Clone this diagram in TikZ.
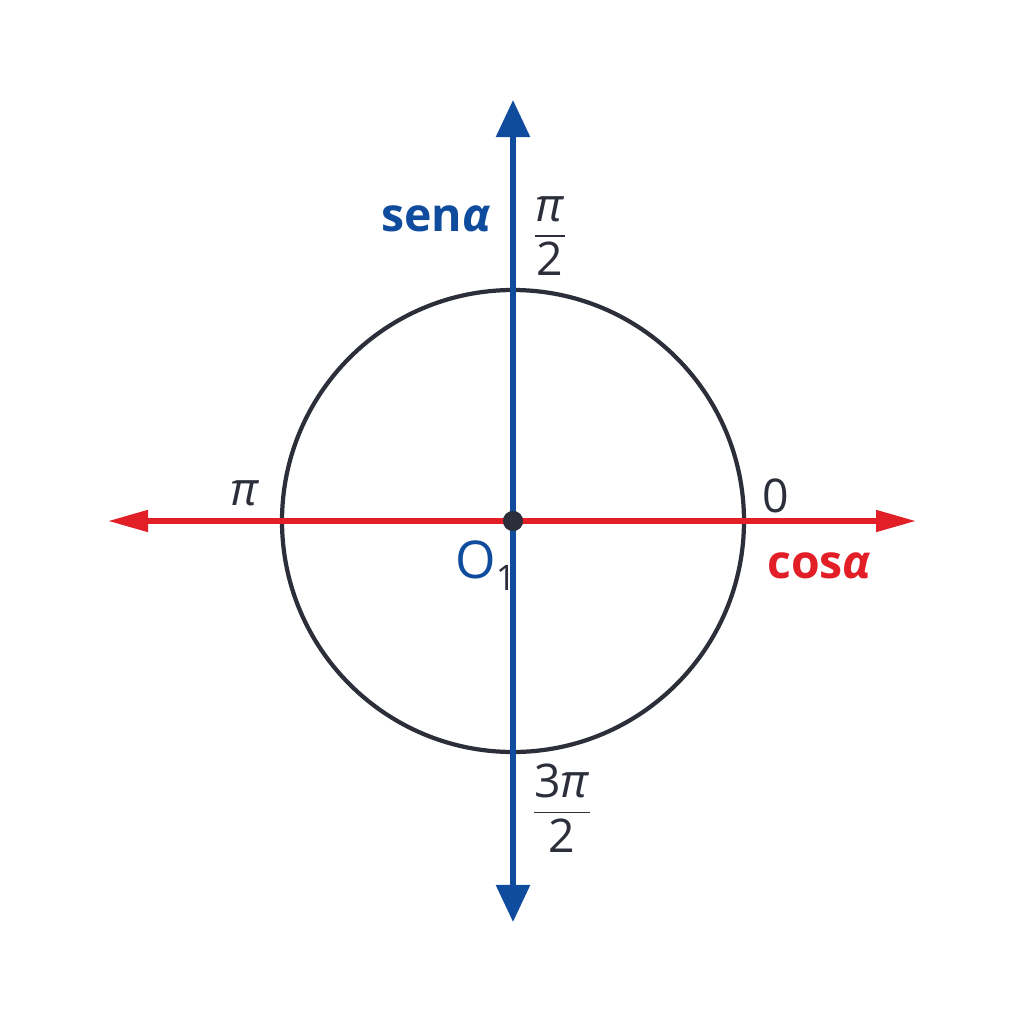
\documentclass[tikz,border=0pt]{standalone}
\usepackage{fontspec}
\setmainfont{Open Sans}
\usepackage{amsmath}
\usetikzlibrary{arrows.meta,positioning}
\definecolor{axisblue}{RGB}{16,76,158}
\definecolor{axisred}{RGB}{226,30,38}
\definecolor{inkgray}{RGB}{44,46,58}
\newcommand{\pifrac}[1]{\genfrac{}{}{1.2pt}{0}{\text{#1}}{\text{2}}}
\tikzset{
  sinaxis/.style={{Triangle[length=0.93cm,width=0.83cm]}-{Triangle[length=0.93cm,width=0.83cm]},
    draw=axisblue, fill=axisblue, line width=4pt},
  cosaxis/.style={{Triangle[length=1cm,width=0.52cm]}-{Triangle[length=1cm,width=0.52cm]},
    draw=axisred, fill=axisred, line width=3.8pt},
  unitcircle/.style={draw=inkgray, line width=3pt},
  centredot/.style={circle, fill=inkgray, inner sep=0pt, minimum size=0.5cm},
  axislabel/.style={font=\fontsize{33}{38}\selectfont\bfseries, inner sep=0pt},
  anglelabel/.style={font=\fontsize{33}{38}\selectfont, text=inkgray, inner sep=0pt}
}

\begin{document}
\begin{tikzpicture}[x=0.025cm, y=-0.025cm]
\useasboundingbox (0,0) rectangle (1024,1024);
\node[centredot] (O) at (513,521) {};
\coordinate (stop) at (513,100);
\coordinate (sbot) at (513,922);
\coordinate (cleft) at (108,521);
\coordinate (cright) at (916,521);

\draw[unitcircle] (O) circle[radius=231];
\draw[cosaxis] (cleft) -- (cright);
\draw[sinaxis] (sbot) -- (stop);
\node[centredot] at (O) {};

\node[axislabel, text=axisblue, anchor=base west] (sen) at (381,232) {sen\textit{α}};
\node[axislabel, text=axisred, anchor=base west] (cos) at (767,578) {cos\textit{α}};
\node[anchor=base west, inner sep=0pt, text=axisblue, font=\fontsize{37}{42}\selectfont] (o1) at (455,578)
  {O\raisebox{-9pt}{\fontsize{25}{28}\selectfont\color{inkgray}1}};

\node[anglelabel] (halfpi) at (550,236) {$\color{inkgray}\pifrac{\textit{π}}$};
\node[anglelabel] (threehalfpi) at (562,808) {$\color{inkgray}\pifrac{3\textit{π}}$};
\node[anglelabel, anchor=base] (pi) at (245,505) {\textit{π}};
\node[anglelabel, anchor=base] (zero) at (776,512) {0};
\end{tikzpicture}
\end{document}
